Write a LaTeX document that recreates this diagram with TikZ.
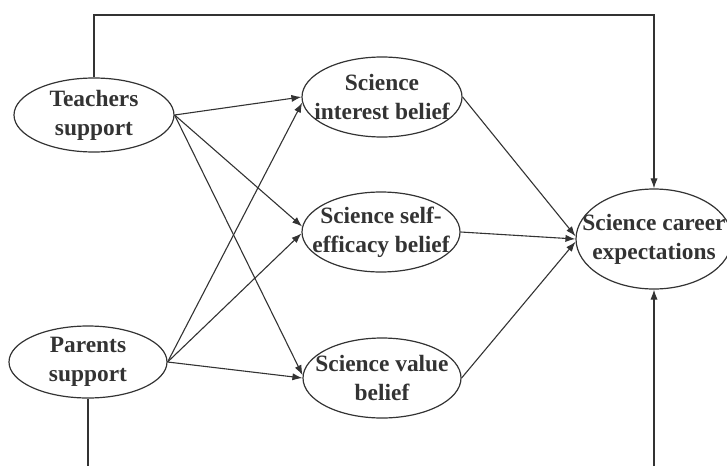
\documentclass[tikz,border=0pt]{standalone}
\usepackage{fontspec}
\setmainfont{Liberation Serif}
\usetikzlibrary{arrows.meta,shapes.geometric}
\definecolor{ink}{HTML}{333333}
\tikzset{
  latent/.style={ellipse, draw=ink, line width=0.6pt, inner sep=-30pt, align=center,
    font=\fontsize{11.7}{14.5}\selectfont\bfseries, text=ink},
  effect/.style={draw=ink, line width=0.55pt, arrows={-{Latex[length=5pt,width=3.6pt]}}},
  link/.style={draw=ink, line width=0.55pt}
}
\begin{document}
\begin{tikzpicture}[x=0.5pt,y=-0.5pt]
\useasboundingbox (0,0) rectangle (727,466);
% Knoten
\node[latent, minimum width=80pt, minimum height=37pt] (teach) at (94,115) {Teachers\\support};
\node[latent, minimum width=79pt, minimum height=36pt] (parent) at (88,362) {Parents\\support};
\node[latent, minimum width=80pt, minimum height=40pt] (interest) at (382,97) {Science\\interest belief};
\node[latent, minimum width=79pt, minimum height=40pt] (efficacy) at (381,232) {Science self-\\efficacy belief};
\node[latent, minimum width=79pt, minimum height=40pt] (value) at (382,378) {Science value\\belief};
\node[latent, minimum width=78pt, minimum height=50pt] (career) at (654,239) {Science career\\expectations};
% Punkte
\coordinate (topR) at (654,15);
\coordinate (botL) at (88,466);
\coordinate (botR) at (654,466);
% Pfade
\draw[effect] (teach.east) -- (interest.180);
\draw[effect] (teach.east) -- (efficacy.176);
\draw[effect] (teach.east) -- (value.178);
\draw[effect] (parent.east) -- (interest.184);
\draw[effect] (parent.east) -- (efficacy.181);
\draw[effect] (parent.east) -- (value.180);
\draw[effect] (interest.east) -- (career.178);
\draw[effect] (efficacy.east) -- (career.180);
\draw[effect] (value.east) -- (career.182);
% direkte Pfade
\draw[effect] (teach.north) |- (topR) -- (career.north);
\draw[link] (parent.south) -- (botL);
\draw[effect] (botR) -- (career.south);
\end{tikzpicture}
\end{document}
